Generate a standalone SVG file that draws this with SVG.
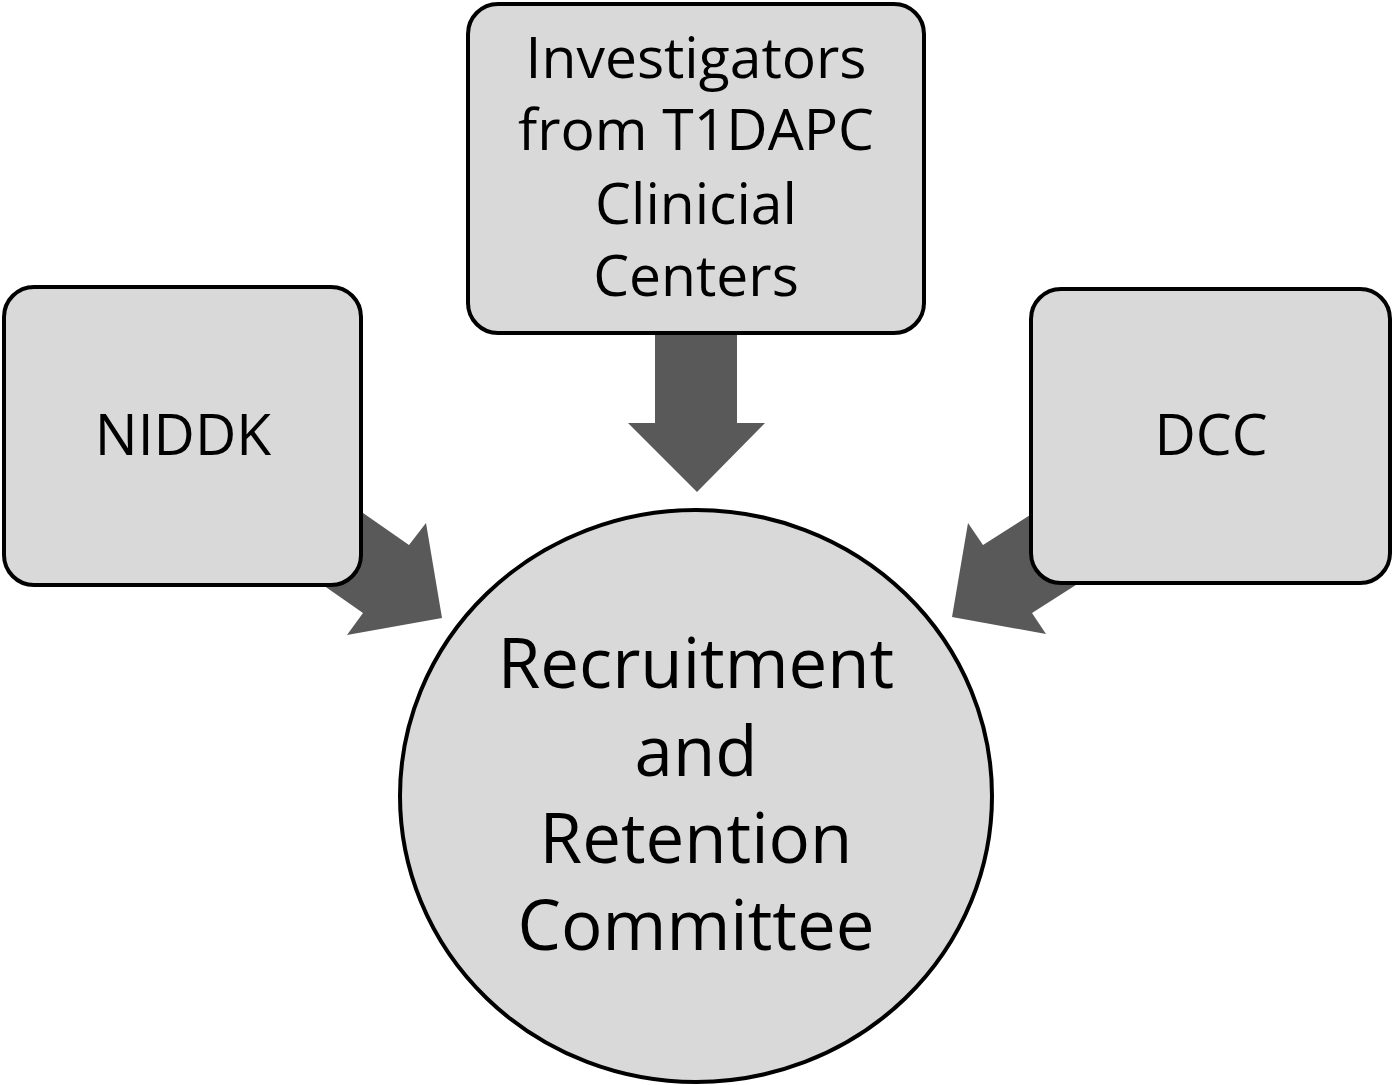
<svg xmlns="http://www.w3.org/2000/svg" width="1394" height="1085" viewBox="0 0 1394 1085">
<style>
.box{fill:#d9d9d9;stroke:#000;stroke-width:4}
.arr{fill:#595959;stroke:none}
.t{font-family:"Open Sans","Liberation Sans",sans-serif;fill:#000;text-anchor:middle}
.s{font-size:57px}
.b{font-size:69px}
</style>
<rect width="1394" height="1085" fill="#fff"/>
<g id="connectors">
<polygon class="arr" points="655,333 737,333 737,423 765,423 697,492 628,423 655,423"/>
<polygon class="arr" points="330,490 409,545 426,523 442,618 347,635 363,613 300,569"/>
<polygon class="arr" points="1060,496 983,545 968,523 952,617 1046,634 1032,613 1090,576"/>
</g>
<g id="niddk">
<rect class="box" x="4" y="287" width="357" height="298" rx="30"/>
<text class="t s" x="183" y="455">NIDDK</text>
</g>
<g id="investigators">
<rect class="box" x="468" y="4" width="456" height="329" rx="30"/>
<text class="t s" x="696" y="78">Investigators</text>
<text class="t s" x="696" y="150">from T1DAPC</text>
<text class="t s" x="696" y="224">Clinicial</text>
<text class="t s" x="696" y="296">Centers</text>
</g>
<g id="dcc">
<rect class="box" x="1031" y="289" width="359" height="294" rx="30"/>
<text class="t s" x="1211" y="455">DCC</text>
</g>
<g id="committee">
<ellipse class="box" cx="696" cy="796" rx="296" ry="286"/>
<text class="t b" x="696" y="688">Recruitment</text>
<text class="t b" x="696" y="776">and</text>
<text class="t b" x="696" y="863">Retention</text>
<text class="t b" x="696" y="950">Committee</text>
</g>
</svg>
